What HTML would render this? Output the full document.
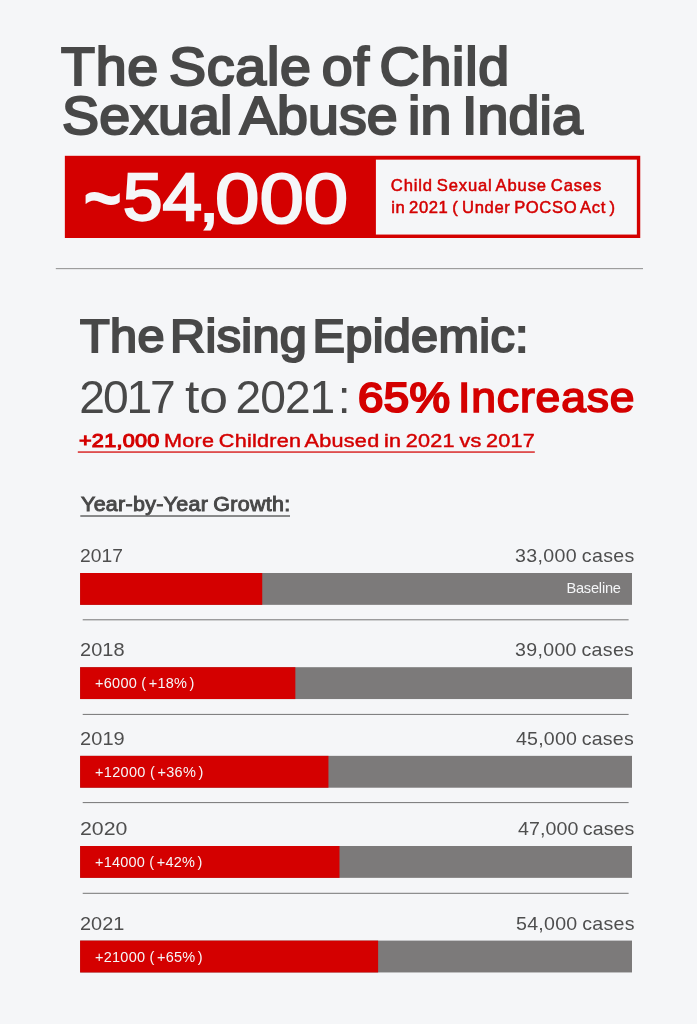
<!DOCTYPE html>
<html lang="en"><head><meta charset="utf-8"><title>The Scale of Child Sexual Abuse in India</title>
<style>
html,body{margin:0;padding:0;}
body{width:697px;height:1024px;background:#f5f6f8;position:relative;overflow:hidden;font-family:"Liberation Sans",Arial,Helvetica,sans-serif;}
.t{position:absolute;white-space:nowrap;margin:0;padding:0;}
.r{position:absolute;}
.g{position:absolute;left:0;top:0;width:0;height:0;font-size:0;line-height:0;}
span.t{display:block;}
.gi{position:absolute;white-space:nowrap;font-size:0;line-height:0;}
.ti{display:inline-block;position:relative;white-space:nowrap;vertical-align:baseline;}
i{font-style:normal;padding:0 2.4px;}
b{font-weight:400;-webkit-text-stroke:1.1px currentColor;}
</style></head><body>
<svg class="r" id="shapes" width="697" height="1024" viewBox="0 0 697 1024" style="left:0;top:0;"><rect x="64.85" y="155.80" width="575.40" height="82.20" fill="#d40000"/><rect x="375.90" y="159.65" width="260.95" height="74.90" fill="#f5f6f8"/><rect x="55.80" y="268.15" width="587.20" height="1.00" fill="#8e8e8e"/><rect x="77.80" y="451.43" width="457.00" height="1.25" fill="#d40000"/><rect x="80.30" y="515.38" width="209.70" height="1.25" fill="#484848"/><rect x="80.10" y="573.00" width="551.90" height="31.85" fill="#7c7a7a"/><rect x="80.10" y="573.00" width="182.13" height="31.85" fill="#d40000"/><rect x="80.10" y="667.20" width="551.90" height="31.85" fill="#7c7a7a"/><rect x="80.10" y="667.20" width="215.24" height="31.85" fill="#d40000"/><rect x="80.10" y="755.85" width="551.90" height="31.85" fill="#7c7a7a"/><rect x="80.10" y="755.85" width="248.35" height="31.85" fill="#d40000"/><rect x="80.10" y="846.00" width="551.90" height="31.85" fill="#7c7a7a"/><rect x="80.10" y="846.00" width="259.39" height="31.85" fill="#d40000"/><rect x="80.10" y="940.60" width="551.90" height="31.85" fill="#7c7a7a"/><rect x="80.10" y="940.60" width="298.03" height="31.85" fill="#d40000"/><rect x="82.70" y="619.30" width="545.90" height="1.00" fill="#757575"/><rect x="82.70" y="713.90" width="545.90" height="1.00" fill="#757575"/><rect x="82.70" y="802.10" width="545.90" height="1.00" fill="#757575"/><rect x="82.70" y="892.80" width="545.90" height="1.00" fill="#757575"/></svg>
<div class="t" id="t1" style="left:61.18px;top:34.50px;font-size:53.4px;line-height:64px;font-weight:400;color:#484848;letter-spacing:0.748px;-webkit-text-stroke:2.2px #484848;transform:scale(1.04,1);transform-origin:left center;word-spacing:-6px;">The Scale of Child</div>
<div class="t" id="t2" style="left:61.62px;top:83.70px;font-size:53.4px;line-height:64px;font-weight:400;color:#484848;letter-spacing:0.112px;-webkit-text-stroke:2.2px #484848;transform:scale(1.04,1);transform-origin:left center;word-spacing:-5px;">Sexual Abuse in India</div>
<div class="gi" id="G_til" style="left:82.80px;top:147.69px;"><span class="ti" id="til" style="margin-left:0.00px;top:0.00px;font-size:83px;line-height:100px;font-weight:700;color:#f5f6f8;letter-spacing:0.000px;transform:scale(0.81,1);transform-origin:left center;">~</span><span class="ti" id="bigA" style="margin-left:-8.69px;top:-5.39px;font-size:67.3px;line-height:81px;font-weight:400;color:#f5f6f8;letter-spacing:0.000px;-webkit-text-stroke:2.3px #f5f6f8;transform:scale(1.055,1);transform-origin:left center;">54</span><span class="ti" id="bigC" style="margin-left:1.73px;top:-4.89px;font-size:67.3px;line-height:81px;font-weight:400;color:#f5f6f8;letter-spacing:0.000px;-webkit-text-stroke:2.3px #f5f6f8;transform:scale(1.08,0.97);transform-origin:left 56.00px;">,</span><span class="ti" id="bigB" style="margin-left:-2.89px;top:-3.00px;font-size:71px;line-height:85px;font-weight:400;color:#f5f6f8;letter-spacing:0.000px;-webkit-text-stroke:2.0px #f5f6f8;transform:scale(1.125,1);transform-origin:left center;">000</span></div>
<div class="t" id="b1" style="left:390.85px;top:176.20px;font-size:16.6px;line-height:20px;font-weight:400;color:#d40000;letter-spacing:0.840px;-webkit-text-stroke:0.5px #d40000;word-spacing:-1.5px;">Child Sexual Abuse Cases</div>
<div class="t" id="b2" style="left:391.13px;top:197.80px;font-size:16.6px;line-height:20px;font-weight:400;color:#d40000;letter-spacing:0.626px;-webkit-text-stroke:0.5px #d40000;word-spacing:-1.5px;">in 2021 ( Under POCSO Act )</div>
<div class="t" id="h1" style="left:79.60px;top:308.50px;font-size:45.9px;line-height:55px;font-weight:400;color:#484848;letter-spacing:0.295px;-webkit-text-stroke:2.0px #484848;transform:scale(1.06,1);transform-origin:left center;word-spacing:-8px;">The Rising Epidemic:</div>
<div class="gi" id="G_h2a1" style="left:79.36px;top:370.00px;"><span class="ti" id="h2a1" style="margin-left:0.00px;top:0.00px;font-size:46.2px;line-height:55px;font-weight:400;color:#484848;letter-spacing:-2.125px;">2017</span> <span class="ti" id="h2a2" style="margin-left:11.50px;top:0.00px;font-size:46.2px;line-height:55px;font-weight:400;color:#484848;letter-spacing:0.000px;transform:scale(1.12,1);transform-origin:left center;">to</span> <span class="ti" id="h2a3" style="margin-left:11.98px;top:0.00px;font-size:46.2px;line-height:55px;font-weight:400;color:#484848;letter-spacing:-1.049px;">2021</span><span class="ti" id="h2a4" style="margin-left:3.47px;top:0.00px;font-size:46.2px;line-height:55px;font-weight:400;color:#484848;letter-spacing:0.000px;">:</span> <span class="ti" id="h2b1" style="margin-left:7.73px;top:-1.31px;font-size:41.8px;line-height:50px;font-weight:400;color:#d40000;letter-spacing:0.395px;-webkit-text-stroke:2.2px #d40000;transform:scale(1.09,1);transform-origin:left center;">65%</span> <span class="ti" id="h2b2" style="margin-left:14.64px;top:-0.70px;font-size:43.1px;line-height:52px;font-weight:400;color:#d40000;letter-spacing:0.866px;-webkit-text-stroke:1.7px #d40000;transform:scale(1.03,1);transform-origin:left center;">Increase</span></div>
<div class="t" id="s1" style="left:78.54px;top:429.40px;font-size:18.8px;line-height:23px;font-weight:400;color:#d40000;letter-spacing:0.223px;-webkit-text-stroke:0.45px #d40000;transform:scale(1.15,1);transform-origin:left center;word-spacing:-1.5px;"><b>+21,000</b> More Children Abused in 2021 vs 2017</div>
<div class="t" id="yy" style="left:81.13px;top:491.80px;font-size:19.9px;line-height:24px;font-weight:400;color:#484848;letter-spacing:0.255px;-webkit-text-stroke:0.9px #484848;transform:scale(1.08,1);transform-origin:left center;word-spacing:-1px;">Year-by-Year Growth:</div>
<div class="t" id="y0" style="left:80.25px;top:544.70px;font-size:18.5px;line-height:22px;font-weight:400;color:#4e4e4e;letter-spacing:0.006px;transform:scale(1.041,1);transform-origin:left center;">2017</div>
<div class="t" id="c0" style="left:514.93px;top:544.70px;font-size:18.5px;line-height:22px;font-weight:400;color:#4e4e4e;letter-spacing:0.320px;transform:scale(1.06,1);transform-origin:left center;word-spacing:-1px;">33,000 cases</div>
<div class="t" id="l0" style="left:566.45px;top:578.80px;font-size:14.6px;line-height:18px;font-weight:400;color:#f5f6f8;letter-spacing:-0.208px;">Baseline</div>
<div class="t" id="y1" style="left:80.21px;top:638.90px;font-size:18.5px;line-height:22px;font-weight:400;color:#4e4e4e;letter-spacing:0.033px;transform:scale(1.079,1);transform-origin:left center;">2018</div>
<div class="t" id="c1" style="left:514.93px;top:638.90px;font-size:18.5px;line-height:22px;font-weight:400;color:#4e4e4e;letter-spacing:0.286px;transform:scale(1.06,1);transform-origin:left center;word-spacing:-1px;">39,000 cases</div>
<div class="t" id="l1" style="left:95.07px;top:674.90px;font-size:14.5px;line-height:17px;font-weight:400;color:#f5f6f8;letter-spacing:0.242px;">+6000 (<i>+18%</i>)</div>
<div class="t" id="y2" style="left:80.17px;top:727.55px;font-size:18.5px;line-height:22px;font-weight:400;color:#4e4e4e;letter-spacing:0.061px;transform:scale(1.081,1);transform-origin:left center;">2019</div>
<div class="t" id="c2" style="left:516.30px;top:727.55px;font-size:18.5px;line-height:22px;font-weight:400;color:#4e4e4e;letter-spacing:0.184px;transform:scale(1.06,1);transform-origin:left center;word-spacing:-1px;">45,000 cases</div>
<div class="t" id="l2" style="left:95.07px;top:763.55px;font-size:14.5px;line-height:17px;font-weight:400;color:#f5f6f8;letter-spacing:0.294px;">+12000 (<i>+36%</i>)</div>
<div class="t" id="y3" style="left:79.89px;top:817.70px;font-size:18.5px;line-height:22px;font-weight:400;color:#4e4e4e;letter-spacing:-0.019px;transform:scale(1.152,1);transform-origin:left center;">2020</div>
<div class="t" id="c3" style="left:518.10px;top:817.70px;font-size:18.5px;line-height:22px;font-weight:400;color:#4e4e4e;letter-spacing:0.062px;transform:scale(1.06,1);transform-origin:left center;word-spacing:-1px;">47,000 cases</div>
<div class="t" id="l3" style="left:95.07px;top:853.70px;font-size:14.5px;line-height:17px;font-weight:400;color:#f5f6f8;letter-spacing:0.211px;">+14000 (<i>+42%</i>)</div>
<div class="t" id="y4" style="left:80.21px;top:912.80px;font-size:18.5px;line-height:22px;font-weight:400;color:#4e4e4e;letter-spacing:0.040px;transform:scale(1.076,1);transform-origin:left center;">2021</div>
<div class="t" id="c4" style="left:515.65px;top:912.80px;font-size:18.5px;line-height:22px;font-weight:400;color:#4e4e4e;letter-spacing:0.244px;transform:scale(1.06,1);transform-origin:left center;word-spacing:-1px;">54,000 cases</div>
<div class="t" id="l4" style="left:95.07px;top:948.90px;font-size:14.5px;line-height:17px;font-weight:400;color:#f5f6f8;letter-spacing:0.237px;">+21000 (<i>+65%</i>)</div>
</body></html>
